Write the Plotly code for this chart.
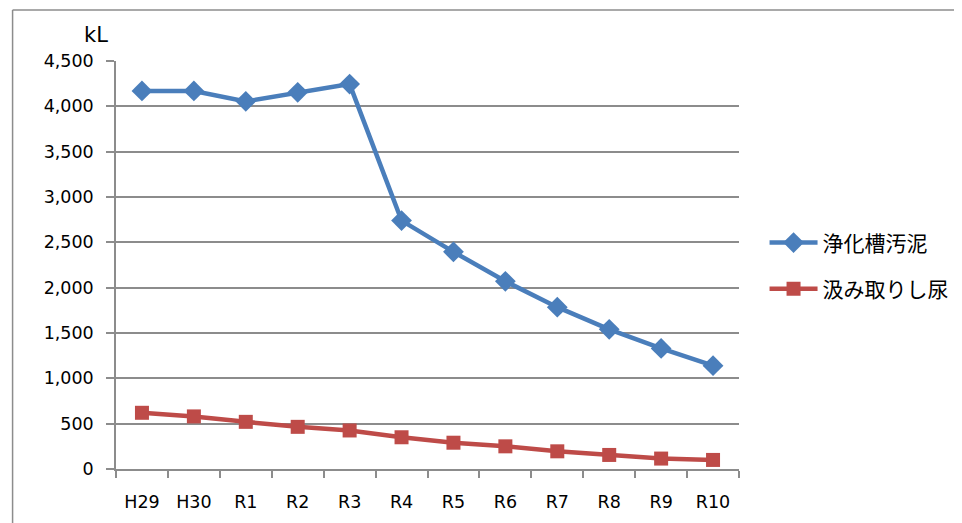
import plotly.graph_objects as go

categories = ["H29", "H30", "R1", "R2", "R3", "R4", "R5", "R6", "R7", "R8", "R9", "R10"]
sludge = [4170, 4170, 4055, 4155, 4245, 2740, 2395, 2070, 1785, 1540, 1330, 1140]
night_soil = [620, 580, 520, 465, 425, 350, 290, 250, 195, 155, 115, 100]
series_names = ["浄化槽汚泥", "汲み取りし尿"]
y_ticks = [0, 500, 1000, 1500, 2000, 2500, 3000, 3500, 4000, 4500]
y_ticktext = [f"{v:,}" for v in y_ticks]

tick_font = dict(family="DejaVu Sans, sans-serif", size=17.5, color="#000")
jp_font = dict(family="Noto Sans CJK JP, sans-serif", size=21, color="#000")

fig = go.Figure()
fig.add_trace(go.Scatter(
    x=categories, y=sludge, name=series_names[0], mode="lines+markers",
    line=dict(color="#4A7EBB", width=4.5),
    marker=dict(symbol="diamond", size=16, color="#4A7EBB"),
    legend="legend",
))
fig.add_trace(go.Scatter(
    x=categories, y=night_soil, name=series_names[1], mode="lines+markers",
    line=dict(color="#BE4B48", width=4.5),
    marker=dict(symbol="square", size=14, color="#BE4B48"),
    legend="legend2",
))

grid = "#8C8C8C"
fig.update_layout(
    width=962, height=523,
    margin=dict(l=108, r=231, t=53, b=62),
    paper_bgcolor="white", plot_bgcolor="white",
    xaxis=dict(
        type="category", showgrid=False, showline=True, linecolor=grid, linewidth=1.5,
        ticks="outside", tickson="boundaries", ticklen=7, tickcolor=grid, tickwidth=1.5,
        tickfont=tick_font, range=[-0.5, 11.5], fixedrange=True,
        ticklabelstandoff=16,
    ),
    yaxis=dict(
        range=[0, 4500], tickvals=y_ticks, ticktext=y_ticktext,
        showgrid=True, gridcolor=grid, gridwidth=1.5,
        showline=True, linecolor=grid, linewidth=1.5,
        ticks="outside", ticklen=8, tickcolor=grid, tickwidth=1.5,
        tickfont=tick_font, zeroline=False, ticklabelstandoff=9,
    ),
    legend=dict(x=1.041, y=0.554, xanchor="left", yanchor="middle",
                font=jp_font, itemwidth=48, bgcolor="rgba(0,0,0,0)"),
    legend2=dict(x=1.041, y=0.441, xanchor="left", yanchor="middle",
                 font=jp_font, itemwidth=48, bgcolor="rgba(0,0,0,0)"),
    showlegend=True,
)

fig.add_annotation(
    text="kL", xref="paper", yref="paper", x=-0.009, y=1.064,
    xanchor="right", yanchor="middle", showarrow=False,
    font=dict(family="DejaVu Sans, sans-serif", size=21, color="#000"),
)

# outer chart frame lines
fig.add_shape(type="line", xref="paper", yref="paper",
              x0=-0.166, x1=1.5, y0=1.125, y1=1.125,
              line=dict(color="#8C8C8C", width=1.5))
fig.add_shape(type="line", xref="paper", yref="paper",
              x0=-0.166, x1=-0.166, y0=1.125, y1=-0.2,
              line=dict(color="#8C8C8C", width=1.5))
fig.add_shape(type="line", xref="paper", yref="paper",
              x0=-0.184, x1=-0.184, y0=1.2, y1=-0.2,
              line=dict(color="#8C8C8C", width=1.5))

fig.write_html("out.html")
